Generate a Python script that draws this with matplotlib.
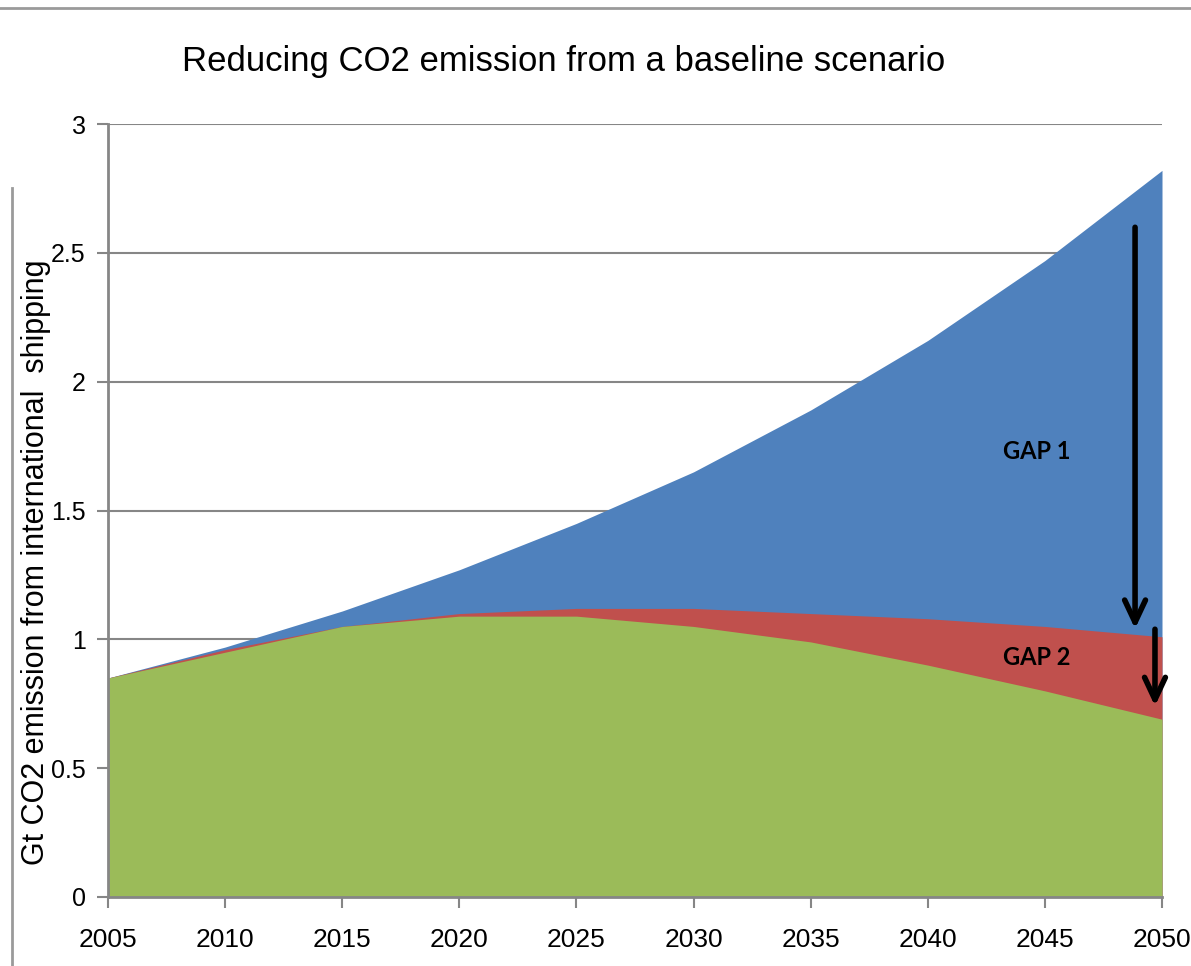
import matplotlib
matplotlib.use("Agg")
import matplotlib.pyplot as plt
from matplotlib.lines import Line2D
import numpy as np

years = [2005, 2010, 2015, 2020, 2025, 2030, 2035, 2040, 2045, 2050]
baseline = [0.85, 0.97, 1.11, 1.27, 1.45, 1.65, 1.89, 2.16, 2.47, 2.82]
after_gap1 = [0.85, 0.96, 1.05, 1.10, 1.12, 1.12, 1.10, 1.08, 1.05, 1.01]
after_gap2 = [0.85, 0.95, 1.05, 1.09, 1.09, 1.05, 0.99, 0.90, 0.80, 0.69]
y_ticks = [0, 0.5, 1, 1.5, 2, 2.5, 3]
y_tick_labels = ["0", "0.5", "1", "1.5", "2", "2.5", "3"]

BLUE = "#4F81BD"
RED = "#C0504D"
GREEN = "#9BBB59"
AXIS = "#868686"

narrow = ["Liberation Sans Narrow", "Liberation Sans", "DejaVu Sans"]

fig = plt.figure(figsize=(11.91, 9.66), dpi=100)
ax = fig.add_axes([108 / 1191, 1 - 897 / 966, (1162 - 108) / 1191, (897 - 124) / 966])

ax.fill_between(years, 0, baseline, color=BLUE, lw=0, zorder=2)
ax.fill_between(years, 0, after_gap1, color=RED, lw=0, zorder=3)
ax.fill_between(years, 0, after_gap2, color=GREEN, lw=0, zorder=4)

ax.set_xlim(2005, 2050)
ax.set_ylim(0, 3)
ax.set_xticks(years)
ax.set_xticklabels([str(y) for y in years], fontfamily=narrow, fontsize=19)
ax.set_yticks(y_ticks)
ax.set_yticklabels(y_tick_labels, fontfamily=["Liberation Sans", "DejaVu Sans"], fontsize=18)
ax.yaxis.grid(True, color=AXIS, lw=1.5, zorder=1)
ax.set_axisbelow(True)
for s in ["top", "right"]:
    ax.spines[s].set_visible(False)
for s in ["left", "bottom"]:
    ax.spines[s].set_color(AXIS)
    ax.spines[s].set_linewidth(2)
    ax.spines[s].set_zorder(5)
ax.tick_params(axis="both", colors=AXIS, length=8, width=1.5, labelcolor="black")
ax.tick_params(axis="x", pad=14)
ax.tick_params(axis="y", pad=8)

# Gap arrows and labels
arrow_style = dict(arrowstyle="->,head_length=1.6,head_width=0.75", lw=4, color="black")
ax.annotate("", xy=(2048.85, 1.03), xytext=(2048.85, 2.61), arrowprops=arrow_style, zorder=6)
ax.annotate("", xy=(2049.7, 0.73), xytext=(2049.7, 1.05), arrowprops=arrow_style, zorder=6)
ax.text(2043.2, 1.73, "GAP 1", fontfamily=["Lato", "DejaVu Sans"], fontweight="bold",
        fontsize=17, ha="left", va="center", zorder=6)
ax.text(2043.2, 0.93, "GAP 2", fontfamily=["Lato", "DejaVu Sans"], fontweight="bold",
        fontsize=17, ha="left", va="center", zorder=6)

fig.text(564 / 1191, 1 - 62 / 966, "Reducing CO2 emission from a baseline scenario",
         fontfamily=narrow, fontsize=25, ha="center", va="center")
fig.text(36 / 1191, 1 - 562 / 966, "Gt CO2 emission from international  shipping",
         fontfamily=narrow, fontsize=22, rotation=90, ha="center", va="center")

# Surrounding frame lines
fig.add_artist(Line2D([0, 1], [1 - 8 / 966, 1 - 8 / 966], color="#9a9a9a", lw=2,
                      transform=fig.transFigure))
fig.add_artist(Line2D([12 / 1191, 12 / 1191], [0, 1 - 188 / 966], color="#9a9a9a", lw=2,
                      transform=fig.transFigure))

fig.savefig("out.png", dpi=100)
